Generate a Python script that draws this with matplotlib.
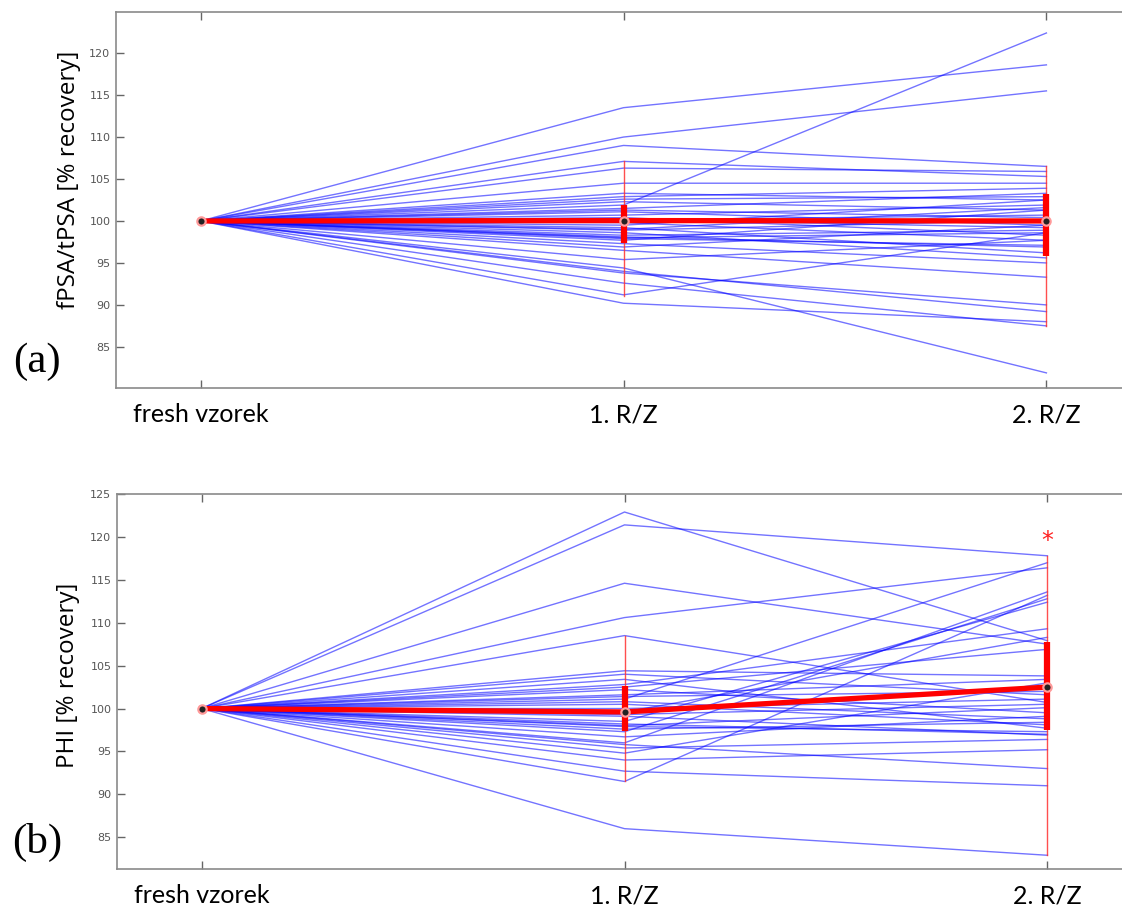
import numpy as np
import matplotlib
matplotlib.use('Agg')
import matplotlib.pyplot as plt

# ===================== DATA =====================
STAGES = ['fresh vzorek', '1. R/Z', '2. R/Z']

# (a) fPSA/tPSA - hodnoty jednotlivych vzorku v 1. R/Z a 2. R/Z (fresh = 100)
fpsa_rz1 = [113.5, 110.0, 109.0, 107.1, 106.3, 104.5, 103.3, 102.9, 102.3, 101.9,
            101.5, 101.1, 100.7, 100.4, 100.1, 99.8, 99.5, 99.2, 98.9, 98.6,
            98.3, 98.1, 97.7, 97.3, 96.9, 96.5, 95.4, 94.4, 94.0, 93.8,
            92.6, 91.2, 90.2, 101.3, 100.2, 99.0, 98.0, 102.6, 97.9]
fpsa_rz2 = [118.6, 115.5, 106.5, 105.3, 105.9, 104.5, 102.5, 103.9, 101.3, 122.4,
            103.3, 99.5, 101.9, 98.3, 100.7, 97.7, 102.5, 96.2, 100.1, 95.6,
            98.9, 96.9, 101.3, 95.0, 99.5, 93.3, 97.7, 81.9, 89.2, 90.0,
            87.5, 98.6, 88.0, 100.4, 99.2, 101.6, 98.6, 102.9, 97.1]

# (b) PHI
phi_rz1 = [122.9, 121.4, 114.6, 110.6, 108.5, 104.4, 104.0, 103.4, 102.8, 102.2,
           101.6, 101.1, 100.5, 100.0, 99.6, 99.1, 98.5, 98.0, 97.9, 97.3,
           96.7, 96.0, 95.4, 94.8, 94.0, 95.8, 91.5, 86.0, 92.7, 100.8,
           99.3, 98.2, 101.4, 97.6, 102.5]
phi_rz2 = [107.9, 117.8, 107.5, 116.4, 100.7, 103.8, 101.6, 97.7, 109.3, 99.5,
           103.4, 117.0, 98.1, 101.1, 108.3, 96.9, 112.4, 100.1, 97.3, 112.8,
           99.1, 113.6, 96.4, 103.0, 95.2, 93.0, 113.2, 82.9, 91.0, 98.8,
           100.5, 97.0, 102.0, 98.4, 106.9]

# souhrnne statistiky (prumer, rozsah, interkvartil)
fpsa_mean = [100.0, 100.05, 100.0]
fpsa_lo = [100.0, 91.1, 87.5]
fpsa_hi = [100.0, 107.2, 106.5]
fpsa_q1 = [100.0, 97.4, 95.8]
fpsa_q3 = [100.0, 101.9, 103.2]

phi_mean = [100.0, 99.6, 102.5]
phi_lo = [100.0, 91.5, 82.9]
phi_hi = [100.0, 108.5, 117.8]
phi_q1 = [100.0, 97.4, 97.5]
phi_q3 = [100.0, 102.6, 107.7]

FIG_W, FIG_H = 1122, 910


def draw_panel(ax, rz1, rz2, mean, lo, hi, q1, q3, ylim, yticks, ylabel, label_xy):
    x = np.arange(1, 4)
    for a, b in zip(rz1, rz2):
        ax.plot(x, [100, a, b], color='#0000ff', lw=1.0, alpha=0.55, zorder=2)
    # rozsah a interkvartil
    for i in range(1, 3):
        ax.plot([x[i], x[i]], [lo[i], hi[i]], color='#ff3030', lw=1.0, alpha=0.85, zorder=3)
        ax.plot([x[i], x[i]], [q1[i], q3[i]], color='#ff0000', lw=4.5, zorder=4,
                solid_capstyle='butt')
    ax.plot(x, mean, color='#ff0000', lw=3.8, zorder=5)
    ax.plot(x, mean, ls='none', marker='o', ms=6, mfc='#222222', mec='#ff9a9a',
            mew=1.6, zorder=6)

    ax.set_xlim(0.8, 3.2)
    ax.set_ylim(*ylim)
    ax.set_yticks(yticks)
    ax.set_xticks(x)
    ax.set_xticklabels(STAGES, fontsize=18, family='Lato')
    for lab in ax.get_yticklabels():
        lab.set_fontsize(8)
        lab.set_color('#555555')
    ax.tick_params(axis='both', direction='in', length=6, color='#666666',
                   top=True, right=True, width=1)
    ax.tick_params(axis='x', pad=11)
    ax.tick_params(axis='y', pad=4)
    for sp in ax.spines.values():
        sp.set_color('#8a8a8a')
        sp.set_linewidth(1.2)
    ax.set_ylabel(ylabel, fontsize=17.5, family='Open Sans')
    ax.yaxis.set_label_coords(*label_xy)


fig = plt.figure(figsize=(FIG_W / 100, FIG_H / 100), dpi=100)

left = 116 / FIG_W
width = (1131 - 116) / FIG_W
ax1 = fig.add_axes([left, 1 - 388 / FIG_H, width, (388 - 12) / FIG_H])
ax2 = fig.add_axes([117 / FIG_W, 1 - 869 / FIG_H, width, (869 - 494) / FIG_H])

draw_panel(ax1, fpsa_rz1, fpsa_rz2, fpsa_mean, fpsa_lo, fpsa_hi, fpsa_q1, fpsa_q3,
           (80.1, 124.9), np.arange(85, 121, 5), 'fPSA/tPSA [% recovery]', (-0.034, 0.553))
draw_panel(ax2, phi_rz1, phi_rz2, phi_mean, phi_lo, phi_hi, phi_q1, phi_q3,
           (81.3, 125), np.arange(85, 126, 5), 'PHI [% recovery]', (-0.036, 0.517))

# vyznamnost
ax2.text(3, 119.5, '*', color='#ff2020', fontsize=17, ha='center', va='center')

fig.text(37 / FIG_W, 1 - 362 / FIG_H, '(a)', fontsize=31, family='Liberation Serif',
         ha='center', va='center')
fig.text(37 / FIG_W, 1 - 842 / FIG_H, '(b)', fontsize=31, family='Liberation Serif',
         ha='center', va='center')

fig.savefig('out.png', dpi=100)
